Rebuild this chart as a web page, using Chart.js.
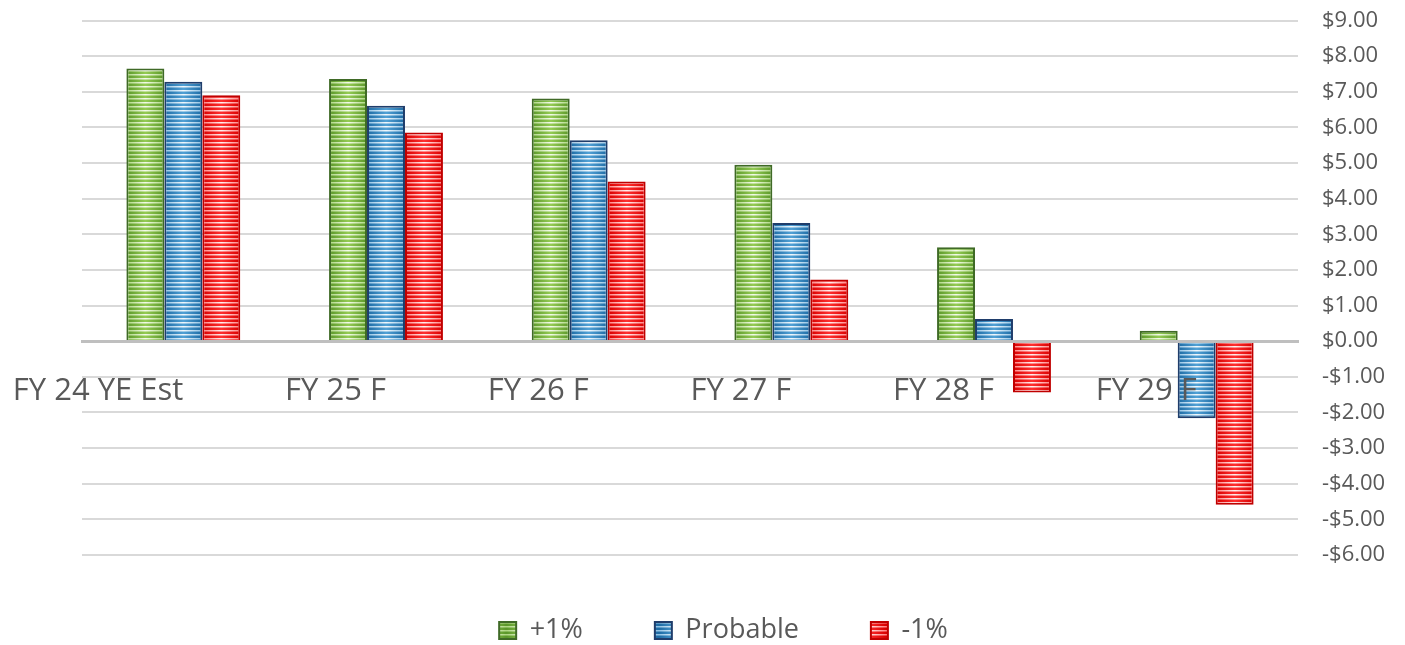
<!DOCTYPE html>
<html><head><meta charset="utf-8">
<script src="https://cdn.jsdelivr.net/npm/chart.js@4.4.1/dist/chart.umd.min.js"></script>
<style>html,body{margin:0;padding:0;background:#fff;}canvas{display:block;}</style>
</head><body>
<canvas id="c" width="1405" height="645"></canvas>
<script>
const categories = ['FY 24 YE Est', 'FY 25 F', 'FY 26 F', 'FY 27 F', 'FY 28 F', 'FY 29 F'];
const plus1 = [7.65, 7.36, 6.81, 4.95, 2.64, 0.29];
const probable = [7.28, 6.61, 5.64, 3.32, 0.62, -2.16];
const minus1 = [6.90, 5.86, 4.48, 1.73, -1.44, -4.59];
const seriesNames = ['+1%', 'Probable', '-1%'];
const yMin = -6, yMax = 9, yStep = 1;

const palettes = [
  {stripeEdge: '#5a962a', stripeMid: '#95cc54', lightEdge: '#acd67e', lightMid: '#f4fbec', legendLight: '#d3ebb5', border: '#3f6a26'},
  {stripeEdge: '#1d6aa3', stripeMid: '#52a2d6', lightEdge: '#8ec1e4', lightMid: '#f2f9fd', legendLight: '#b7daf1', border: '#1f3d6b'},
  {stripeEdge: '#d80000', stripeMid: '#ff3030', lightEdge: '#ff8080', lightMid: '#fff2f2', legendLight: '#ffb0b0', border: '#c00000'}
];
const CAT_PCT = 0.562;
const FONT = "'Open Sans', 'Noto Sans', sans-serif";

function makePattern(chartCtx, pal, w, left, grad) {
  const c = document.createElement('canvas');
  let cw = Math.round(w);
  if (!isFinite(cw) || cw < 1) cw = 1;
  c.width = cw;
  c.height = 4;
  const g = c.getContext('2d');
  const mk = (edge, mid) => {
    const gr = g.createLinearGradient(0, 0, cw, 0);
    gr.addColorStop(0, edge); gr.addColorStop(0.5, mid); gr.addColorStop(1, edge);
    return gr;
  };
  if (grad) {
    g.fillStyle = mk(pal.stripeEdge, pal.stripeMid); g.fillRect(0, 0, cw, 2);
    g.fillStyle = mk(pal.lightEdge, pal.lightMid); g.fillRect(0, 2, cw, 2);
    g.globalAlpha = 0.5;
    g.fillStyle = mk(pal.stripeEdge, pal.stripeMid); g.fillRect(0, 3, cw, 1);
    g.globalAlpha = 1;
  } else {
    g.fillStyle = pal.stripeEdge; g.fillRect(0, 0, cw, 2);
    g.fillStyle = pal.legendLight; g.fillRect(0, 2, cw, 2);
  }
  const pat = chartCtx.createPattern(c, 'repeat');
  if (grad && isFinite(left)) pat.setTransform(new DOMMatrix([1, 0, 0, 1, left, 0]));
  return pat;
}

function barFill(dsIndex) {
  return (ctx) => {
    const pal = palettes[dsIndex];
    const chart = ctx.chart;
    const xs = chart.scales && chart.scales.x;
    if (ctx.type !== 'data' || !xs || !isFinite(xs.width) || xs.width <= 0) {
      return makePattern(chart.ctx, pal, 1, 0, false);
    }
    const catW = xs.width / categories.length;
    const chunk = catW * CAT_PCT / 3;
    const left = xs.getPixelForTick(ctx.dataIndex) - catW * CAT_PCT / 2 + chunk * dsIndex;
    return makePattern(chart.ctx, pal, chunk, left, true);
  };
}

const values = [plus1, probable, minus1];
const datasets = values.map((vals, i) => ({
  label: seriesNames[i],
  data: vals,
  backgroundColor: barFill(i),
  borderColor: palettes[i].border,
  borderWidth: 2,
  categoryPercentage: CAT_PCT,
  barPercentage: 1.0
}));

// nudge the legend box to the reference placement (box only, not chart marks)
const legendPlace = {
  id: 'legendPlace',
  afterLayout(chart) {
    const lg = chart.legend;
    if (lg) { lg.top -= 10; lg.left -= 20; lg.right -= 20; }
  }
};

new Chart(document.getElementById('c'), {
  type: 'bar',
  data: {labels: categories, datasets},
  plugins: [legendPlace],
  options: {
    responsive: false,
    animation: false,
    events: [],
    layout: {padding: {top: 20.5, left: 82, right: 0, bottom: 0}},
    plugins: {
      tooltip: {enabled: false},
      legend: {
        position: 'bottom',
        maxHeight: 90,
        labels: {
          boxWidth: 17, boxHeight: 17, padding: 72,
          color: '#595959',
          font: {family: FONT, size: 27}
        }
      }
    },
    scales: {
      x: {
        type: 'category',
        position: {y: 0},
        grid: {display: false, drawTicks: false},
        border: {display: true, color: '#bfbfbf', width: 3, z: 1},
        ticks: {
          z: 1, align: 'end', padding: 31, maxRotation: 0, autoSkip: false,
          color: '#595959', font: {family: FONT, size: 31}
        },
        afterFit(scale) { scale.paddingLeft = 0; scale.paddingRight = 0; }
      },
      y: {
        position: 'right',
        min: yMin, max: yMax,
        grid: {
          drawTicks: false,
          lineWidth: 2,
          color: (c) => (c.tick && c.tick.value === 0) ? 'rgba(0,0,0,0)' : '#d9d9d9'
        },
        border: {display: false},
        ticks: {
          stepSize: yStep, padding: 24, color: '#595959',
          font: {family: FONT, size: 22},
          callback: (v) => (v < 0 ? '-' : '') + '$' + Math.abs(v).toFixed(2)
        },
        afterFit(scale) { scale.width = 107; scale.paddingTop = 0; scale.paddingBottom = 0; }
      }
    }
  }
});
</script>
</body></html>
